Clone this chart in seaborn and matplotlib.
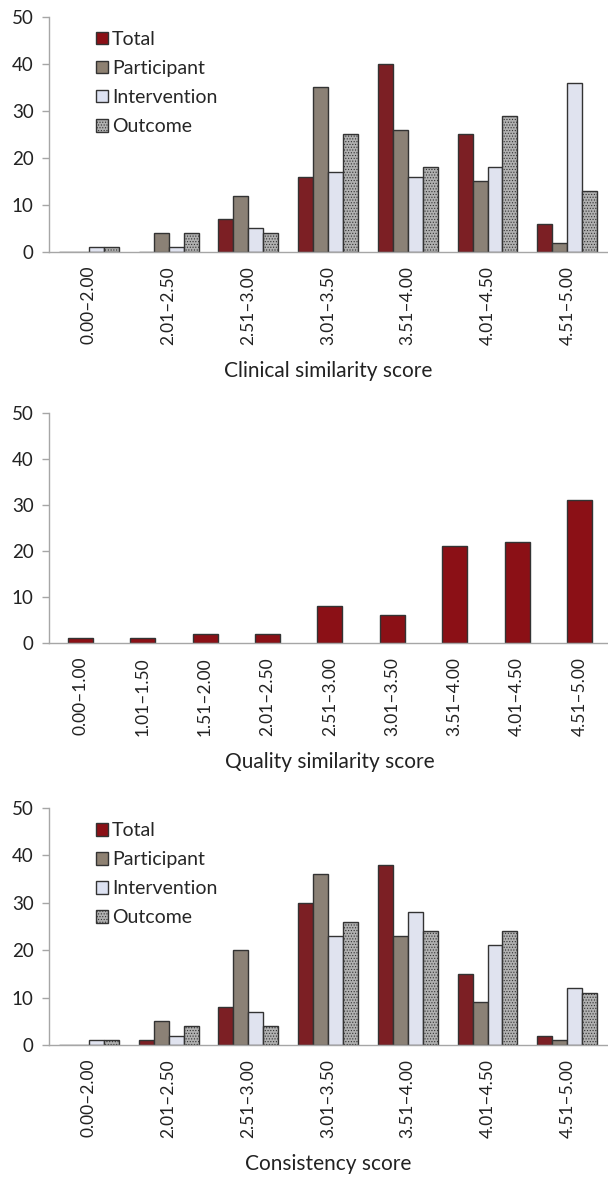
import matplotlib
matplotlib.use("Agg")
import matplotlib.pyplot as plt
import pandas as pd
import seaborn as sns


# Score bands
clinical_bands = ["0.00–2.00", "2.01–2.50", "2.51–3.00", "3.01–3.50",
                  "3.51–4.00", "4.01–4.50", "4.51–5.00"]
quality_bands = ["0.00–1.00", "1.01–1.50", "1.51–2.00", "2.01–2.50",
                 "2.51–3.00", "3.01–3.50", "3.51–4.00", "4.01–4.50",
                 "4.51–5.00"]
consistency_bands = clinical_bands

series_names = ["Total", "Participant", "Intervention", "Outcome"]

# Clinical similarity counts
clinical_total = [0, 0, 7, 16, 40, 25, 6]
clinical_participant = [0, 4, 12, 35, 26, 15, 2]
clinical_intervention = [1, 1, 5, 17, 16, 18, 36]
clinical_outcome = [1, 4, 4, 25, 18, 29, 13]

# Quality similarity counts
quality_total = [1, 1, 2, 2, 8, 6, 21, 22, 31]

# Consistency counts
consistency_total = [0, 1, 8, 30, 38, 15, 2]
consistency_participant = [0, 5, 20, 36, 23, 9, 1]
consistency_intervention = [1, 2, 7, 23, 28, 21, 12]
consistency_outcome = [1, 4, 4, 26, 24, 24, 11]

colors = ["#8B1016", "#8E8172", "#DDE2F2", "#B0B0B0"]


def long_table(bands, series_lists):
    rows = []
    for name, values in zip(series_names, series_lists):
        for band, value in zip(bands, values):
            rows.append({"band": band, "series": name, "count": value})
    return pd.DataFrame(rows)


sns.set_theme(style="white")
plt.rcParams["font.family"] = ["Lato", "DejaVu Sans"]
plt.rcParams["hatch.linewidth"] = 0.5
plt.rcParams["hatch.color"] = "#6f6f6f"

fig = plt.figure(figsize=(6.08, 11.77), dpi=100)

ax1 = fig.add_axes([0.0806, 0.7859, 0.918, 0.1997])
ax2 = fig.add_axes([0.0806, 0.4537, 0.924, 0.1954])
ax3 = fig.add_axes([0.0806, 0.1121, 0.918, 0.2014])


def style_axis(ax, xlabel):
    ax.set_ylim(0, 50)
    ax.set_yticks([0, 10, 20, 30, 40, 50])
    for side in ["top", "right"]:
        ax.spines[side].set_visible(False)
    for side in ["left", "bottom"]:
        ax.spines[side].set_color("#a6a6a6")
        ax.spines[side].set_linewidth(1.0)
    ax.tick_params(axis="y", direction="out", length=5, width=1,
                   color="#a6a6a6", labelsize=13.5, labelcolor="#222222",
                   pad=6, left=True)
    ax.tick_params(axis="x", length=0, labelsize=12.5, labelcolor="#222222",
                   pad=10, rotation=90)
    ax.set_xlabel(xlabel, fontsize=15, color="#222222", labelpad=12)
    ax.set_ylabel("")


def grouped_chart(ax, bands, series_lists, xlabel):
    df = long_table(bands, series_lists)
    sns.barplot(data=df, x="band", y="count", hue="series",
                hue_order=series_names, palette=colors, width=0.75,
                edgecolor="#333333", linewidth=1.0, ax=ax,
                errorbar=None, legend=False)
    for bar in ax.containers[3]:
        bar.set_hatch("......")
    style_axis(ax, xlabel)
    ax.set_xlim(-0.5, len(bands) - 0.5)

    handles = []
    for name, color in zip(series_names, colors):
        patch = plt.Rectangle((0, 0), 1, 1, facecolor=color,
                              edgecolor="#333333", linewidth=1.0)
        if name == "Outcome":
            patch.set_hatch("......")
        handles.append(patch)
    ax.legend(handles, series_names, loc="upper left",
              bbox_to_anchor=(0.085, 0.94), frameon=False, fontsize=14,
              handlelength=0.6, handleheight=0.6, handletextpad=0.2,
              labelspacing=0.62, borderaxespad=0, borderpad=0)


grouped_chart(ax1, clinical_bands,
              [clinical_total, clinical_participant,
               clinical_intervention, clinical_outcome],
              "Clinical similarity score")

quality_df = pd.DataFrame({"band": quality_bands, "count": quality_total})
sns.barplot(data=quality_df, x="band", y="count", color=colors[0],
            saturation=1, width=0.4, edgecolor="#333333", linewidth=1.0,
            errorbar=None, ax=ax2)
style_axis(ax2, "Quality similarity score")
ax2.set_xlim(-0.5, len(quality_bands) - 0.5)

grouped_chart(ax3, consistency_bands,
              [consistency_total, consistency_participant,
               consistency_intervention, consistency_outcome],
              "Consistency score")

fig.savefig("out.png", dpi=100)
